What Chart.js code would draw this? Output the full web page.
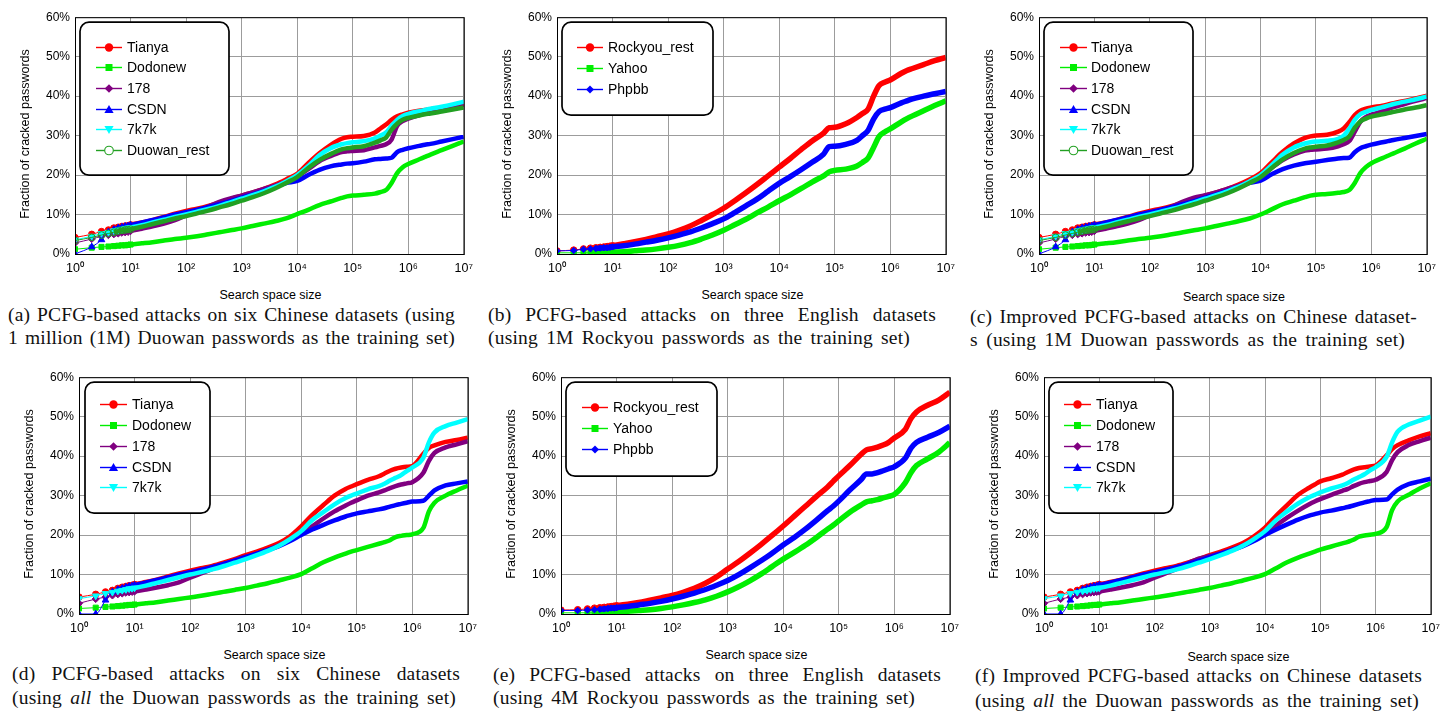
<!DOCTYPE html>
<html><head><meta charset="utf-8">
<script src="https://cdn.jsdelivr.net/npm/chart.js@4.4.1/dist/chart.umd.min.js"></script>
<style>
html,body{margin:0;padding:0;background:#fff;}
body{width:1445px;height:711px;position:relative;overflow:hidden;}
.wrap{position:absolute;}
.ytitle{position:absolute;width:220px;height:14px;line-height:14px;text-align:center;transform:rotate(-90deg);font:12.5px "Liberation Sans",Arial,sans-serif;color:#000;white-space:nowrap;}
.xtitle{position:absolute;width:200px;height:14px;line-height:14px;text-align:center;font:12.5px "Liberation Sans",Arial,sans-serif;color:#000;white-space:nowrap;}
.cap{position:absolute;height:23px;font:19.5px/23px "Liberation Serif","Times New Roman",serif;letter-spacing:0.2px;text-align:justify;text-align-last:justify;color:#111;}
</style></head><body>
<script>
// ---------- shared axis data ----------
const searchSpace = [1,2,3,4,5,6,7,8,9,10, 16,25,40,63,100,158,251,398,631,1000,
  1585,2512,3981,6310,10000,15849,25119,39811,63096,79433,
  100000,158489,251189,316228,398107,501187,630957,794328,1000000,1584893,
  1995262,2511886,3981072,6309573,10000000];
const decadeTicks = [1,10,100,1000,10000,100000,1000000,10000000];
const decadeLabels = ['10\u2070','10\u00b9','10\u00b2','10\u00b3','10\u2074','10\u2075','10\u2076','10\u2077'];
const yTickStep = 10, yMin = 0, yMax = 60;
const chineseSix = ['Tianya','Dodonew','178','CSDN','7k7k','Duowan_rest'];
const chineseFive = ['Tianya','Dodonew','178','CSDN','7k7k'];
const english = ['Rockyou_rest','Yahoo','Phpbb'];

// ---------- (a) ----------
const aTianya = [4.2,5.0,5.7,6.1,6.6,6.8,7.0,7.1,7.2,7.4, 8.0,8.6,9.4,10.2,10.9,11.5,12.2,13.0,13.9,14.8, 15.6,16.5,17.6,18.9,20.3,23.0,25.5,27.6,29.2,29.6, 29.7,29.9,30.8,31.8,32.8,34.0,34.9,35.4,35.8,36.3, 36.5,36.7,37.0,37.4,37.9];
const aDodonew = [1.2,1.6,1.8,1.9,2.0,2.1,2.2,2.2,2.3,2.4, 2.7,3.0,3.4,3.8,4.1,4.5,5.0,5.5,6.0,6.5, 7.1,7.7,8.3,9.0,10.1,11.2,12.4,13.3,14.2,14.6, 14.8,15.0,15.3,15.7,16.2,18.0,20.5,22.0,22.8,24.0, 24.6,25.2,26.3,27.4,28.5];
const a178 = [2.8,3.8,4.5,4.8,5.0,5.2,5.4,5.5,5.6,5.8, 6.4,7.0,7.7,8.6,9.8,11.0,12.0,13.2,14.1,14.8, 15.6,16.5,17.3,18.3,19.6,21.5,23.5,24.8,25.8,26.0, 26.1,26.3,27.0,27.4,27.8,29.0,32.5,33.7,34.3,35.2, 35.6,36.0,36.6,37.2,37.8];
const aCSDN = [0,1.8,3.6,5.6,6.2,6.6,6.8,7.0,7.1,7.3, 8.0,8.6,9.3,10.0,10.6,11.2,11.9,12.6,13.4,14.3, 15.1,16.0,17.0,18.0,18.5,20.0,21.3,22.2,22.7,22.9, 23.0,23.4,24.0,24.1,24.2,24.4,25.8,26.4,26.8,27.4, 27.7,27.9,28.5,29.1,29.7];
const a7k7k = [3.6,4.5,5.2,5.5,5.9,6.1,6.3,6.5,6.6,6.7, 7.3,8.0,8.7,9.4,10.0,10.7,11.4,12.2,13.1,14.0, 14.9,15.9,17.0,18.4,20.0,22.3,25.0,26.8,27.8,28.1, 28.3,28.6,29.3,30.0,30.8,32.5,34.0,35.0,35.5,36.2, 36.5,36.8,37.3,37.9,38.6];
const aDuowanRest = [3.4,4.2,4.8,5.2,5.5,5.8,6.0,6.1,6.2,6.3, 6.9,7.6,8.3,9.0,9.6,10.3,11.0,11.8,12.6,13.5, 14.4,15.4,16.6,18.0,19.5,21.8,23.8,25.3,26.5,26.8, 27.0,27.3,28.2,28.8,29.5,31.5,33.0,34.0,34.5,35.1, 35.4,35.6,36.1,36.6,37.1];

// ---------- (b) ----------
const bRockyouRest = [0.8,1.0,1.3,1.5,1.6,1.7,1.8,1.9,2.0,2.1, 2.6,3.1,3.7,4.4,5.1,6.0,7.1,8.5,10.0,11.6, 13.5,15.5,17.6,19.8,22.0,24.2,26.5,28.7,30.6,32.0, 32.1,33.0,34.6,35.6,36.7,40.0,42.7,43.5,44.1,45.8, 46.5,47.0,48.0,49.0,49.8];
const bYahoo = [0.3,0.3,0.3,0.3,0.4,0.4,0.4,0.5,0.5,0.5, 0.6,0.8,1.0,1.3,1.7,2.2,2.9,3.8,4.8,6.0, 7.4,8.8,10.4,11.9,13.5,15.0,16.6,18.3,19.8,20.8, 21.2,21.5,22.3,23.2,24.3,27.0,29.8,30.9,31.7,33.5, 34.3,35.0,36.3,37.6,38.8];
const bPhpbb = [0.8,0.9,1.2,1.3,1.4,1.5,1.6,1.6,1.7,1.8, 2.1,2.5,3.0,3.5,4.1,4.8,5.6,6.6,7.7,8.9, 10.5,12.2,13.9,15.9,17.9,19.6,21.4,23.3,25.3,27.2, 27.3,27.8,28.8,30.0,31.3,34.2,36.1,36.7,37.1,38.3, 38.8,39.3,40.0,40.6,41.2];

// ---------- (c) ----------
const cTianya = [4.2,5.0,5.7,6.1,6.6,6.8,7.0,7.1,7.2,7.4, 8.0,8.6,9.4,10.2,10.9,11.5,12.2,13.0,13.9,14.8, 15.6,16.5,17.6,18.9,20.5,23.2,25.9,28.0,29.4,29.8, 30.0,30.2,31.0,31.8,33.4,35.2,36.3,36.8,37.1,37.6, 37.9,38.2,38.8,39.4,40.1];
const cDodonew = [1.2,1.6,1.8,1.9,2.0,2.1,2.2,2.2,2.3,2.4, 2.7,3.0,3.4,3.8,4.1,4.5,5.0,5.5,6.0,6.5, 7.1,7.7,8.3,9.0,10.0,11.3,12.6,13.5,14.4,14.8, 15.0,15.2,15.5,15.7,16.2,18.0,20.5,22.0,23.0,24.3, 24.9,25.5,26.7,28.0,29.2];
const c178 = [2.8,3.8,4.5,4.8,5.0,5.2,5.4,5.5,5.6,5.8, 6.4,7.0,7.7,8.6,9.8,11.0,12.0,13.3,14.3,14.9, 15.6,16.5,17.3,18.3,19.6,21.8,23.8,25.2,26.2,26.4, 26.5,26.7,27.3,27.8,28.6,31.0,33.5,34.7,35.3,36.2, 36.7,37.2,38.0,38.8,39.5];
const cCSDN = [0,1.8,3.6,5.6,6.2,6.6,6.8,7.0,7.1,7.3, 8.0,8.6,9.3,10.0,10.6,11.2,11.9,12.6,13.4,14.3, 15.1,16.0,17.0,18.0,18.6,20.2,21.5,22.4,23.0,23.2, 23.4,23.8,24.2,24.3,24.4,25.8,26.8,27.3,27.7,28.3, 28.6,28.9,29.4,29.9,30.4];
const c7k7k = [3.6,4.5,5.2,5.5,5.9,6.1,6.3,6.5,6.6,6.7, 7.3,8.0,8.7,9.4,10.0,10.7,11.4,12.2,13.1,14.0, 14.9,15.9,17.0,18.4,20.0,22.5,25.2,27.0,28.0,28.3, 28.5,28.7,29.2,30.0,31.7,34.0,35.4,36.0,36.5,37.2, 37.6,38.0,38.6,39.2,39.9];
const cDuowanRest = [3.4,4.2,4.8,5.2,5.5,5.8,6.0,6.1,6.2,6.3, 6.9,7.6,8.3,9.0,9.6,10.3,11.0,11.8,12.6,13.5, 14.4,15.4,16.6,18.0,19.5,21.8,24.0,25.6,26.7,27.0, 27.2,27.5,28.3,28.9,29.8,32.0,33.6,34.3,34.8,35.4, 35.7,36.0,36.6,37.1,37.7];

// ---------- (d) ----------
const dTianya = [4.3,5.0,5.6,6.0,6.5,6.8,7.0,7.2,7.3,7.5, 8.1,8.7,9.5,10.3,11.0,11.6,12.2,13.0,13.9,14.9, 15.8,16.8,18.0,19.7,22.2,25.1,27.6,30.0,31.7,32.3, 32.9,34.0,34.9,35.6,36.3,36.8,37.1,37.3,37.5,40.6, 42.1,42.7,43.6,44.1,44.7];
const dDodonew = [1.4,1.6,1.8,1.9,2.0,2.1,2.2,2.3,2.3,2.4, 2.7,3.0,3.4,3.8,4.2,4.6,5.1,5.6,6.1,6.6, 7.2,7.8,8.5,9.2,10.1,11.6,13.1,14.3,15.3,15.8, 16.2,17.0,17.8,18.2,18.7,19.5,19.8,20.0,20.2,21.8, 26.0,28.2,30.0,31.3,32.5];
const d178 = [2.7,3.8,4.3,4.7,5.0,5.2,5.4,5.5,5.6,5.7, 6.2,6.7,7.3,8.0,9.2,10.3,11.4,12.5,13.6,14.5, 15.3,16.3,17.4,18.7,20.3,22.2,24.2,26.0,27.5,28.2, 28.8,30.0,30.8,31.3,31.9,32.4,32.8,33.1,33.4,35.8, 38.8,40.8,42.2,43.0,43.8];
const dCSDN = [0,0,3.5,5.6,6.2,6.5,6.8,7.0,7.1,7.3, 8.0,8.6,9.3,10.0,10.6,11.2,11.9,12.7,13.5,14.4, 15.3,16.2,17.2,18.5,20.0,21.4,22.6,23.7,24.7,25.1, 25.5,26.0,26.5,26.8,27.2,27.6,27.9,28.2,28.5,28.7, 30.0,31.3,32.6,33.1,33.6];
const d7k7k = [3.9,4.6,5.2,5.5,5.8,6.0,6.2,6.4,6.5,6.6, 7.2,7.9,8.6,9.3,10.0,10.6,11.3,12.1,13.0,13.9, 14.9,16.0,17.3,19.0,21.0,23.8,25.8,27.8,29.4,30.0, 30.5,31.6,32.4,33.0,33.8,34.5,35.2,36.2,37.1,39.6, 43.5,46.0,47.6,48.5,49.4];

// ---------- (e) ----------
const eRockyouRest = [1.0,1.1,1.3,1.5,1.6,1.7,1.8,1.9,2.0,2.1, 2.5,2.9,3.5,4.1,4.7,5.5,6.5,7.8,9.4,11.4, 13.3,15.4,17.6,19.9,22.3,24.8,27.3,29.8,32.2,33.6, 35.0,37.6,40.4,41.6,41.9,42.3,42.8,43.5,44.6,46.8, 49.5,51.2,52.9,54.2,56.2];
const eYahoo = [0.3,0.3,0.3,0.3,0.4,0.4,0.4,0.5,0.5,0.6, 0.7,0.9,1.1,1.4,1.8,2.3,2.9,3.6,4.5,5.6, 6.9,8.4,10.1,12.0,13.9,15.6,17.4,19.4,21.5,22.5, 23.6,25.8,27.6,28.4,28.7,29.0,29.4,29.8,30.3,33.3, 35.8,37.6,39.3,41.0,43.4];
const ePhpbb = [0.9,0.9,1.0,1.1,1.2,1.3,1.4,1.5,1.5,1.6, 1.9,2.3,2.7,3.2,3.8,4.5,5.3,6.2,7.3,8.5, 10.0,11.7,13.5,15.4,17.5,19.4,21.5,23.8,26.2,27.3, 28.6,31.4,34.0,35.5,35.5,35.8,36.3,36.8,37.3,39.5, 42.0,43.5,44.8,46.0,47.6];

// ---------- (f) ----------
const fTianya = [4.3,5.0,5.6,6.0,6.5,6.8,7.0,7.2,7.3,7.5, 8.1,8.7,9.5,10.3,11.0,11.6,12.2,13.0,13.9,14.9, 15.8,16.8,18.0,19.7,21.9,24.9,27.6,30.2,32.0,32.8, 33.6,34.4,35.3,36.0,36.6,37.0,37.2,37.4,37.6,40.2, 41.8,42.8,44.0,45.0,45.8];
const fDodonew = [1.4,1.6,1.8,1.9,2.0,2.1,2.2,2.3,2.3,2.4, 2.7,3.0,3.4,3.8,4.2,4.6,5.1,5.6,6.1,6.6, 7.2,7.8,8.5,9.2,10.1,11.6,13.1,14.3,15.3,15.8, 16.3,17.1,17.9,18.3,18.8,19.6,19.9,20.1,20.3,22.0, 26.3,28.5,30.2,31.8,33.1];
const f178 = [2.7,3.8,4.3,4.7,5.0,5.2,5.4,5.5,5.6,5.7, 6.2,6.7,7.3,8.0,9.2,10.3,11.4,12.8,14.0,14.7, 15.4,16.3,17.4,18.7,20.3,22.4,24.4,26.2,27.8,28.5, 29.1,30.2,31.2,31.7,32.4,33.0,33.4,33.7,34.0,36.0, 39.0,41.0,42.8,43.8,44.7];
const fCSDN = [0,0,3.5,5.6,6.2,6.5,6.8,7.0,7.1,7.3, 8.0,8.6,9.3,10.0,10.6,11.2,11.9,12.7,13.5,14.4, 15.3,16.2,17.2,18.5,20.0,21.4,22.7,23.9,24.9,25.3, 25.7,26.2,26.8,27.1,27.5,27.9,28.3,28.6,28.9,29.0, 30.3,31.5,32.9,33.6,34.3];
const f7k7k = [3.9,4.6,5.2,5.5,5.8,6.0,6.2,6.4,6.5,6.6, 7.2,7.9,8.6,9.3,10.0,10.6,11.3,12.1,13.0,13.9, 14.9,16.0,17.3,19.0,21.0,23.8,26.0,28.0,29.6,30.2, 30.8,31.8,32.6,33.2,34.0,34.7,35.4,36.4,37.2,39.8, 43.5,46.2,48.0,49.0,50.0];

// ---------- styling ----------
const FONT = '"Liberation Sans", Arial, sans-serif';
const styles = {
  'Tianya':       {color:'#ff0000', point:'circle',  rot:0,   r:3.2, mk:'circle',  ms:4.2},
  'Dodonew':      {color:'#00ee00', point:'rect',    rot:0,   r:3.6, mk:'rect',    ms:3.5},
  '178':          {color:'#800080', point:'rectRot', rot:0,   r:3.6, mk:'rectRot', ms:4.3},
  'CSDN':         {color:'#0000ff', point:'triangle',rot:0,   r:3.8, mk:'triUp',   ms:4.6},
  '7k7k':         {color:'#00ffff', point:'triangle',rot:180, r:3.8, mk:'triDown', ms:4.6},
  'Duowan_rest':  {color:'#22a022', point:'circle',  rot:0,   r:3.4, mk:'circle',  ms:4.3, hollow:true},
  'Rockyou_rest': {color:'#ff0000', point:'circle',  rot:0,   r:3.2, mk:'circle',  ms:4.2},
  'Yahoo':        {color:'#00ee00', point:'rect',    rot:0,   r:3.6, mk:'rect',    ms:3.5},
  'Phpbb':        {color:'#0000ff', point:'rectRot', rot:0,   r:3.2, mk:'rectRot', ms:4.0}
};

const AX_W = 45, AX_H = 22, PAD_T = 8, PAD_R = 14;

const panels = [
  {L:75,  T:13,  R:466,  B:254, thick:4.5, labels:chineseSix, values:[aTianya,aDodonew,a178,aCSDN,a7k7k,aDuowanRest],
   legend:{bx:5,by:5,bw:149,bh:153,first:29.3,step:20.7,l0:21,l1:47,tx:52}, xTitleTop:288,
   cap:{left:8,w1:447,w2:447,top1:303,top2:326,l1:'(a) PCFG-based attacks on six Chinese datasets (using',l2:'1 million (1M) Duowan passwords as the training set)'}},
  {L:557, T:13,  R:948,  B:254, thick:5.5, labels:english, values:[bRockyouRest,bYahoo,bPhpbb],
   legend:{bx:5,by:5,bw:151,bh:93,first:29.3,step:21,l0:20,l1:46,tx:51}, xTitleTop:288,
   cap:{left:488,w1:448,w2:422,top1:303,top2:326,l1:'(b) PCFG-based attacks on three English datasets',l2:'(using 1M Rockyou passwords as the training set)'}},
  {L:1039,T:13,  R:1429, B:254, thick:4.5, labels:chineseSix, values:[cTianya,cDodonew,c178,cCSDN,c7k7k,cDuowanRest],
   legend:{bx:5,by:5,bw:149,bh:153,first:29.3,step:20.7,l0:21,l1:48,tx:52}, xTitleTop:290,
   cap:{left:970,w1:447,w2:435,top1:305,top2:328,l1:'(c) Improved PCFG-based attacks on Chinese dataset-',l2:'s (using 1M Duowan passwords as the training set)'}},
  {L:79,  T:373, R:470,  B:614, thick:4.5, labels:chineseFive, values:[dTianya,dDodonew,d178,dCSDN,d7k7k],
   legend:{bx:6,by:5,bw:125,bh:131,first:27,step:20.8,l0:21,l1:48,tx:53}, xTitleTop:648,
   cap:{left:12,w1:448,w2:444,top1:662,top2:686,l1:'(d) PCFG-based attacks on six Chinese datasets',l2:'(using <i>all</i> the Duowan passwords as the training set)'}},
  {L:561, T:373, R:952,  B:614, thick:5.5, labels:english, values:[eRockyouRest,eYahoo,ePhpbb],
   legend:{bx:5,by:5,bw:151,bh:94,first:29.3,step:21.3,l0:21,l1:47,tx:52}, xTitleTop:648,
   cap:{left:493,w1:448,w2:422,top1:663,top2:686,l1:'(e) PCFG-based attacks on three English datasets',l2:'(using 4M Rockyou passwords as the training set)'}},
  {L:1044,T:373, R:1433, B:614, thick:4.5, labels:chineseFive, values:[fTianya,fDodonew,f178,fCSDN,f7k7k],
   legend:{bx:5,by:5,bw:124,bh:131,first:27,step:20.8,l0:20,l1:47,tx:52}, xTitleTop:650,
   cap:{left:975,w1:447,w2:444,top1:664,top2:689,l1:'(f) Improved PCFG-based attacks on Chinese datasets',l2:'(using <i>all</i> the Duowan passwords as the training set)'}}
];

function drawMark(ctx, kind, x, y, s, color, hollow){
  ctx.beginPath();
  if(kind==='circle') ctx.arc(x,y,s,0,Math.PI*2);
  else if(kind==='rect') ctx.rect(x-s,y-s,2*s,2*s);
  else if(kind==='rectRot'){ctx.moveTo(x,y-s);ctx.lineTo(x+s,y);ctx.lineTo(x,y+s);ctx.lineTo(x-s,y);ctx.closePath();}
  else if(kind==='triUp'){ctx.moveTo(x,y-s);ctx.lineTo(x+s,y+s*0.75);ctx.lineTo(x-s,y+s*0.75);ctx.closePath();}
  else if(kind==='triDown'){ctx.moveTo(x,y+s);ctx.lineTo(x+s,y-s*0.75);ctx.lineTo(x-s,y-s*0.75);ctx.closePath();}
  if(hollow){ctx.fillStyle='#fff';ctx.fill();ctx.lineWidth=1.1;ctx.strokeStyle=color;ctx.stroke();}
  else{ctx.fillStyle=color;ctx.fill();}
}

const framePlugin = {
  id:'frame',
  afterDatasetsDraw(chart){
    const {ctx, chartArea:ca} = chart;
    ctx.save();
    ctx.strokeStyle='#000'; ctx.lineWidth=1;
    ctx.strokeRect(ca.left+0.5, ca.top+0.5, ca.right-ca.left, ca.bottom-ca.top);
    ctx.restore();
  }
};

const boxLegend = {
  id:'boxLegend',
  afterDraw(chart, args, o){
    if(!o || !o.bw) return;
    const {ctx, chartArea:ca} = chart;
    const x = ca.left + o.bx, y = ca.top + o.by, w = o.bw, h = o.bh, r = 9;
    ctx.save();
    ctx.beginPath();
    ctx.moveTo(x+r,y); ctx.lineTo(x+w-r,y); ctx.arcTo(x+w,y,x+w,y+r,r);
    ctx.lineTo(x+w,y+h-r); ctx.arcTo(x+w,y+h,x+w-r,y+h,r);
    ctx.lineTo(x+r,y+h); ctx.arcTo(x,y+h,x,y+h-r,r);
    ctx.lineTo(x,y+r); ctx.arcTo(x,y,x+r,y,r); ctx.closePath();
    ctx.fillStyle='#fff'; ctx.fill();
    ctx.lineWidth=1.7; ctx.strokeStyle='#000'; ctx.stroke();
    chart.data.datasets.forEach((ds,i)=>{
      const st = styles[ds.label];
      const yy = Math.round(ca.top + o.first + i*o.step) + 0.5;
      ctx.strokeStyle = st.color; ctx.lineWidth = 1.4;
      ctx.beginPath(); ctx.moveTo(ca.left+o.l0, yy); ctx.lineTo(ca.left+o.l1, yy); ctx.stroke();
      drawMark(ctx, st.mk, ca.left+(o.l0+o.l1)/2, yy, st.ms, st.color, st.hollow);
      ctx.fillStyle='#000'; ctx.font='14px '+FONT; ctx.textBaseline='middle'; ctx.textAlign='left';
      ctx.fillText(ds.label, ca.left+o.tx, yy+0.5);
    });
    ctx.restore();
  }
};

function addText(cls, html, css){
  const d = document.createElement('div');
  d.className = cls; d.innerHTML = html;
  Object.assign(d.style, css);
  document.body.appendChild(d);
}

panels.forEach(p=>{
  const W = p.R - p.L + AX_W + PAD_R, H = p.B - p.T + PAD_T + AX_H;
  const wrap = document.createElement('div');
  wrap.className = 'wrap';
  Object.assign(wrap.style,{left:(p.L-AX_W)+'px', top:(p.T-PAD_T)+'px', width:W+'px', height:H+'px'});
  const cv = document.createElement('canvas');
  cv.width = W; cv.height = H; cv.style.width = W+'px'; cv.style.height = H+'px';
  wrap.appendChild(cv); document.body.appendChild(wrap);

  const datasets = p.labels.map((lab,i)=>{
    const st = styles[lab];
    const vals = p.values[i];
    return {
      label: lab,
      data: searchSpace.map((x,j)=>({x:x, y:vals[j]})),
      borderColor: st.color,
      backgroundColor: st.hollow ? 'rgba(0,0,0,0)' : st.color,
      pointBackgroundColor: st.hollow ? 'rgba(0,0,0,0)' : st.color,
      pointBorderColor: st.color,
      pointBorderWidth: 1,
      pointStyle: st.point,
      pointRotation: st.rot,
      pointRadius: c => (c.raw && c.raw.x <= 10) ? st.r : 0,
      borderWidth: p.thick,
      borderJoinStyle: 'round',
      segment: { borderWidth: c => (c.p0.parsed.x >= 5 ? p.thick : 1) },
      cubicInterpolationMode: 'monotone',
      fill: false,
      order: -i
    };
  });

  new Chart(cv, {
    type:'line',
    data:{datasets},
    options:{
      responsive:false, animation:false, devicePixelRatio:1, events:[],
      layout:{padding:{top:PAD_T, right:PAD_R, left:0, bottom:0}},
      plugins:{legend:{display:false}, tooltip:{enabled:false}, boxLegend:p.legend},
      scales:{
        x:{type:'logarithmic', min:decadeTicks[0], max:decadeTicks[decadeTicks.length-1],
           afterBuildTicks: sc => { sc.ticks = decadeTicks.map(v=>({value:v})); },
           afterFit: sc => { sc.height = AX_H; },
           ticks:{callback:(v,i)=>decadeLabels[i], font:{family:FONT, size:12.5}, color:'#000', maxRotation:0, minRotation:0, autoSkip:false, padding:7},
           grid:{color:'#9c9c9c', lineWidth:1, drawTicks:false}, border:{display:false}},
        y:{min:yMin, max:yMax,
           afterFit: sc => { sc.width = AX_W; },
           ticks:{stepSize:yTickStep, callback:v=>v+'%', font:{family:FONT, size:12}, color:'#000', padding:5},
           grid:{color:'#9c9c9c', lineWidth:1, drawTicks:false}, border:{display:false}}
      }
    },
    plugins:[framePlugin, boxLegend]
  });

  // axis titles
  const cy = (p.T + p.B)/2, cx = (p.L + p.R)/2;
  addText('ytitle','Fraction of cracked passwords',{left:(p.L-50-110)+'px', top:(cy-7)+'px'});
  addText('xtitle','Search space size',{left:(cx-100)+'px', top:p.xTitleTop+'px'});
  // caption
  addText('cap', p.cap.l1, {left:p.cap.left+'px', top:p.cap.top1+'px', width:p.cap.w1+'px'});
  addText('cap', p.cap.l2, {left:p.cap.left+'px', top:p.cap.top2+'px', width:p.cap.w2+'px'});
});
</script>
</body></html>
